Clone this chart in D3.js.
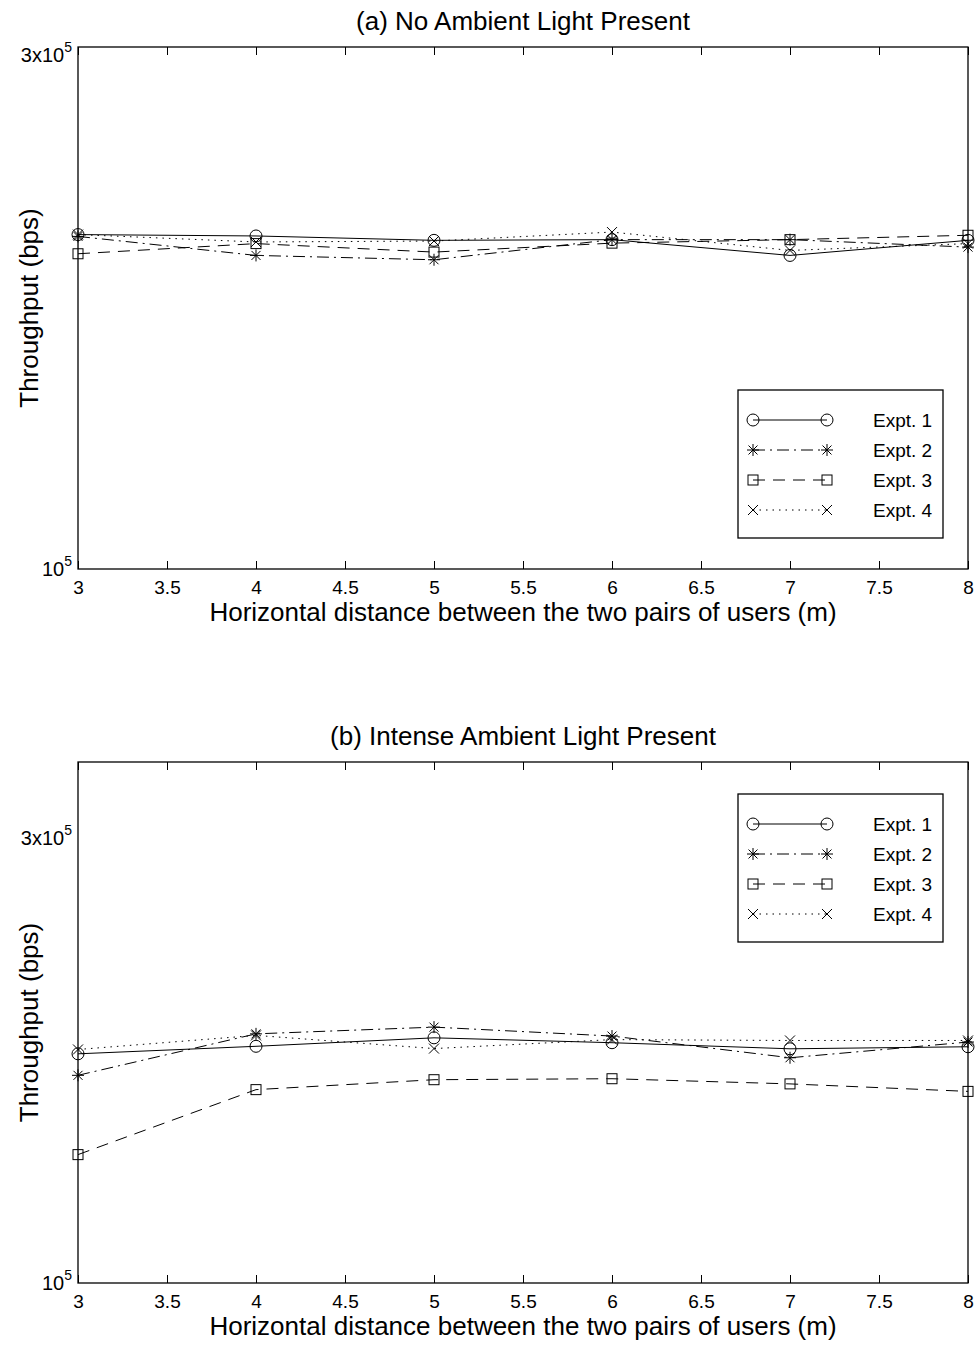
<!DOCTYPE html>
<html><head><meta charset="utf-8">
<script src="https://cdn.jsdelivr.net/npm/d3@7"></script>
<style>body{margin:0;background:#fff}svg{display:block}text{font-family:"Liberation Sans",Arial,sans-serif;fill:#000}</style>
</head><body>
<svg id="c" width="975" height="1345"></svg>
<script>
const xValues = [3, 4, 5, 6, 7, 8];
const xTicks = [3, 3.5, 4, 4.5, 5, 5.5, 6, 6.5, 7, 7.5, 8];
const seriesNames = ["Expt. 1", "Expt. 2", "Expt. 3", "Expt. 4"];
// (a) No ambient light (bps)
const noLight1 = [204300, 203700, 201800, 202100, 195400, 201800];
const noLight2 = [203500, 195400, 193600, 202100, 202100, 198900];
const noLight3 = [196100, 200400, 196800, 200600, 202100, 204000];
const noLight4 = [204300, 201100, 201500, 205400, 197500, 200400];
// (b) Intense ambient light (bps)
const intense1 = [176100, 179400, 183200, 181000, 178300, 179200];
const intense2 = [167000, 185000, 188100, 184000, 174400, 181300];
const intense3 = [137300, 161200, 165200, 165600, 163500, 160500];
const intense4 = [178000, 184300, 178400, 182400, 182000, 182000];
const panelTitles = ["(a) No Ambient Light Present", "(b) Intense Ambient Light Present"];
const yDomainA = [1e5, 3.05e5];
const yDomainB = [1e5, 3.62e5];

const svg = d3.select("#c");
const dashes = [null, "12,5,2,5", "12,8", "1.5,5"];
const markers = ["circle", "star", "square", "x"];

function drawMarker(g, type, x, y) {
  const s = g.append("g").attr("transform", `translate(${x},${y})`)
    .attr("fill", "none").attr("stroke", "#000").attr("stroke-width", 1);
  if (type === "circle") s.append("circle").attr("r", 6);
  else if (type === "square") s.append("rect").attr("x", -5).attr("y", -5).attr("width", 10).attr("height", 10);
  else if (type === "x") s.append("path").attr("d", "M-5,-5L5,5M-5,5L5,-5");
  else if (type === "star") s.append("path").attr("d", "M-6,0L6,0M0,-6L0,6M-4.5,-4.5L4.5,4.5M-4.5,4.5L4.5,-4.5");
}

function panel(cfg) {
  const {top, bottom, left, right, series, domain, title, legendTop} = cfg;
  const g = svg.append("g");
  const x = d3.scaleLinear().domain([3, 8]).range([left, right]);
  const y = d3.scaleLog().domain(domain).range([bottom, top]);

  series.forEach((vals, i) => {
    const line = d3.line().x((d, j) => x(xValues[j])).y(d => y(d));
    g.append("path").datum(vals).attr("d", line).attr("fill", "none")
      .attr("stroke", "#000").attr("stroke-width", 1)
      .attr("stroke-dasharray", dashes[i]);
    vals.forEach((v, j) => drawMarker(g, markers[i], x(xValues[j]), y(v)));
  });

  g.append("rect").attr("x", left).attr("y", top).attr("width", right - left).attr("height", bottom - top)
    .attr("fill", "none").attr("stroke", "#000").attr("stroke-width", 1.3);

  const xa = g.append("g").attr("transform", `translate(0,${bottom})`)
    .call(d3.axisBottom(x).tickValues(xTicks).tickSize(-8).tickPadding(11.5).tickFormat(d3.format("")));
  xa.select(".domain").remove();
  xa.selectAll("text").attr("font-size", 19).attr("font-family", "Liberation Sans, Arial, sans-serif");
  const xt = g.append("g").attr("transform", `translate(0,${top})`)
    .call(d3.axisTop(x).tickValues(xTicks).tickSize(-8).tickFormat(""));
  xt.select(".domain").remove();

  const yLab = (val, base, sup) => {
    const t = g.append("text").attr("x", left - 6).attr("y", y(val) + 7)
      .attr("text-anchor", "end").attr("font-size", 20);
    t.append("tspan").text(base);
    t.append("tspan").attr("font-size", 14).attr("dy", -10).text(sup);
  };
  yLab(1e5, "10", "5");
  yLab(3e5, "3x10", "5");

  g.append("text").attr("x", (left + right) / 2).attr("y", top - 17).attr("text-anchor", "middle")
    .attr("font-size", 26).text(title);
  g.append("text").attr("x", (left + right) / 2).attr("y", bottom + 52).attr("text-anchor", "middle")
    .attr("font-size", 26).text("Horizontal distance between the two pairs of users (m)");
  g.append("text").attr("transform", `translate(38,${(top + bottom) / 2}) rotate(-90)`)
    .attr("text-anchor", "middle").attr("font-size", 26).text("Throughput (bps)");

  const lg = g.append("g");
  lg.append("rect").attr("x", 738).attr("y", legendTop).attr("width", 205).attr("height", 148)
    .attr("fill", "#fff").attr("stroke", "#000").attr("stroke-width", 1.3);
  seriesNames.forEach((name, i) => {
    const ly = legendTop + 30 + i * 30;
    lg.append("line").attr("x1", 753).attr("x2", 827).attr("y1", ly).attr("y2", ly)
      .attr("stroke", "#000").attr("stroke-width", 1).attr("stroke-dasharray", dashes[i]);
    drawMarker(lg, markers[i], 753, ly);
    drawMarker(lg, markers[i], 827, ly);
    lg.append("text").attr("x", 873).attr("y", ly + 7).attr("font-size", 19).text(name);
  });
}

panel({top: 47, bottom: 569, left: 78, right: 968, series: [noLight1, noLight2, noLight3, noLight4],
  domain: yDomainA, title: panelTitles[0], legendTop: 390});
panel({top: 762, bottom: 1283, left: 78, right: 968, series: [intense1, intense2, intense3, intense4],
  domain: yDomainB, title: panelTitles[1], legendTop: 794});
</script>
</body></html>
